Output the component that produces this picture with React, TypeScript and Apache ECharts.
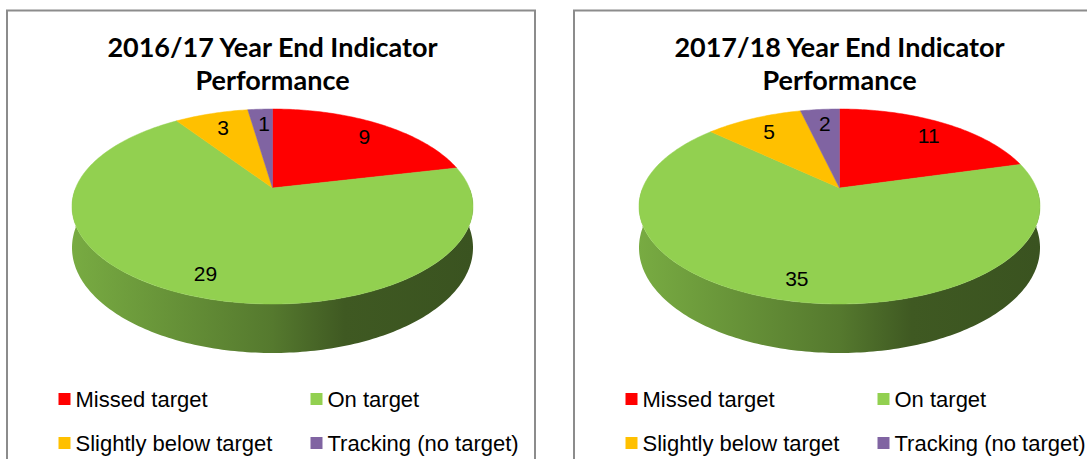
import React, { useEffect, useRef } from "react";
import * as echarts from "echarts";

const CATEGORIES = ["Missed target", "On target", "Slightly below target", "Tracking (no target)"];
const COLORS = ["#FF0000", "#92D050", "#FFC000", "#8064A2"];
const VALUES_2016 = [9, 29, 3, 1];
const VALUES_2017 = [11, 35, 5, 2];
const TITLES = ["2016/17 Year End Indicator\nPerformance", "2017/18 Year End Indicator\nPerformance"];

// layout of the two chart panels
const PANEL_LEFT = [7, 574];
const PANEL_WIDTH = 528;
const PIE_CX = [272.5, 839.5];
const PIE_TOP = 109;
const PIE_APEX = 188;
const PIE_FRONT = 304;
const PIE_HALF_W = 200.5;
const PIE_BOTTOM = 353;

type Geo = { cx: number; apex: number; h: number; e: number; a: number; d: number; hw: number };

function makeGeo(cx: number): Geo {
  const A = PIE_APEX, T = PIE_TOP, F = PIE_FRONT;
  const h = (2 * A - T - F) / (T - F);
  const e = A - T - T * h;
  const a = PIE_HALF_W * Math.sqrt(1 - h * h);
  const d = PIE_BOTTOM * (1 - h) - A - e;
  return { cx, apex: A, h, e, a, d, hw: PIE_HALF_W };
}

function project(g: Geo, theta: number, r: number, drop: number): number[] {
  const X = r * Math.sin(theta);
  const Y = r * Math.cos(theta);
  const w = 1 + g.h * Y;
  return [g.cx + (g.a * X) / w, (g.apex - g.e * Y + drop) / w];
}

function arc(g: Geo, t1: number, t2: number, drop: number): number[][] {
  const pts: number[][] = [];
  const n = Math.max(2, Math.ceil(((t2 - t1) * 180) / Math.PI));
  for (let i = 0; i <= n; i++) {
    pts.push(project(g, t1 + ((t2 - t1) * i) / n, 1, drop));
  }
  return pts;
}

function shade(hex: string, k: number): string {
  const n = parseInt(hex.slice(1), 16);
  const r = Math.round(((n >> 16) & 255) * k);
  const gg = Math.round(((n >> 8) & 255) * k);
  const b = Math.round((n & 255) * k);
  return `rgb(${r},${gg},${b})`;
}

function angles(values: number[], idx: number): number[] {
  const total = values.reduce((s, v) => s + v, 0);
  let before = 0;
  for (let i = 0; i < idx; i++) before += values[i];
  return [(before / total) * Math.PI * 2, ((before + values[idx]) / total) * Math.PI * 2];
}

function sideSeries(values: number[], g: Geo) {
  return {
    type: "custom",
    coordinateSystem: "none",
    silent: true,
    z: 1,
    data: values,
    renderItem: (params: any) => {
      const idx = params.dataIndex;
      const [t1, t2] = angles(values, idx);
      const s = Math.max(t1, Math.PI / 2);
      const en = Math.min(t2, (Math.PI * 3) / 2);
      if (en <= s) return { type: "group", children: [] };
      const top = arc(g, s, en, 0);
      const bottom = arc(g, s, en, g.d).reverse();
      const col = COLORS[idx];
      return {
        type: "polygon",
        shape: { points: top.concat(bottom) },
        style: {
          fill: new echarts.graphic.LinearGradient(
            g.cx - g.hw, 0, g.cx + g.hw, 0,
            [
              { offset: 0, color: shade(col, 0.82) },
              { offset: 0.3, color: shade(col, 0.68) },
              { offset: 0.5, color: shade(col, 0.58) },
              { offset: 0.68, color: shade(col, 0.43) },
              { offset: 1, color: shade(col, 0.4) },
            ],
            true
          ),
          stroke: null,
        },
      };
    },
  };
}

function topSeries(values: number[], g: Geo) {
  return {
    type: "custom",
    coordinateSystem: "none",
    silent: true,
    z: 2,
    data: values,
    renderItem: (params: any) => {
      const idx = params.dataIndex;
      const [t1, t2] = angles(values, idx);
      const pts = [[g.cx, g.apex]].concat(arc(g, t1, t2, 0));
      return {
        type: "polygon",
        shape: { points: pts },
        style: { fill: COLORS[idx], stroke: COLORS[idx], lineWidth: 0.5 },
      };
    },
  };
}

function labelSeries(values: number[], g: Geo) {
  return {
    type: "custom",
    coordinateSystem: "none",
    silent: true,
    z: 3,
    data: values,
    renderItem: (params: any, api: any) => {
      const idx = params.dataIndex;
      const [t1, t2] = angles(values, idx);
      const p = project(g, (t1 + t2) / 2, 0.82, 0);
      return {
        type: "text",
        x: p[0] + 2,
        y: p[1] + 2,
        style: {
          text: String(api.value(0)),
          fill: "#000",
          font: '21px "Liberation Sans", Arial, sans-serif',
          align: "center",
          verticalAlign: "middle",
        },
      };
    },
  };
}

export default function App() {
  const ref = useRef<HTMLDivElement>(null);
  useEffect(() => {
    if (!ref.current) return;
    const chart = echarts.init(ref.current, null, { renderer: "svg" });
    const geos = PIE_CX.map((cx) => makeGeo(cx));
    const datasets = [VALUES_2016, VALUES_2017];
    const series: any[] = [];
    datasets.forEach((vals, i) => {
      series.push(sideSeries(vals, geos[i]));
      series.push(topSeries(vals, geos[i]));
      series.push(labelSeries(vals, geos[i]));
      series.push({
        type: "pie",
        name: "legend" + i,
        radius: [0, 0],
        center: [PIE_CX[i], PIE_APEX],
        silent: true,
        label: { show: false },
        labelLine: { show: false },
        data: CATEGORIES.map((c, k) => ({ name: c, value: vals[k], itemStyle: { color: COLORS[k] } })),
      });
    });
    const legendCols = [58.5, 310.5];
    const legendRows = [388, 432];
    const legends: any[] = [];
    PANEL_LEFT.forEach((pl, i) => {
      const off = pl - PANEL_LEFT[0];
      CATEGORIES.forEach((c, k) => {
        legends.push({
          data: [c],
          left: legendCols[k % 2] + off,
          top: legendRows[Math.floor(k / 2)],
          padding: 0,
          icon: "rect",
          itemWidth: 12,
          itemHeight: 12,
          itemGap: 0,
          selectedMode: false,
          textStyle: { fontSize: 22, color: "#000", fontFamily: '"Liberation Sans", Arial, sans-serif', padding: [0, 0, 0, 0] },
        });
      });
    });
    chart.setOption({
      animation: false,
      backgroundColor: "#fff",
      title: TITLES.map((t, i) => ({
        text: t,
        left: PIE_CX[i],
        top: 30,
        textAlign: "center",
        padding: 0,
        textStyle: { fontSize: 27, fontWeight: "bold", fontFamily: "Lato, sans-serif", color: "#000", lineHeight: 33 },
      })),
      legend: legends,
      graphic: PANEL_LEFT.map((pl) => ({
        type: "rect",
        silent: true,
        shape: { x: pl, y: 10.5, width: PANEL_WIDTH, height: 470 },
        style: { fill: "none", stroke: "#8c8c8c", lineWidth: 2 },
      })),
      series,
    });
    return () => chart.dispose();
  }, []);
  return <div ref={ref} style={{ position: "absolute", left: 0, top: 0, width: 1087, height: 459 }} />;
}
